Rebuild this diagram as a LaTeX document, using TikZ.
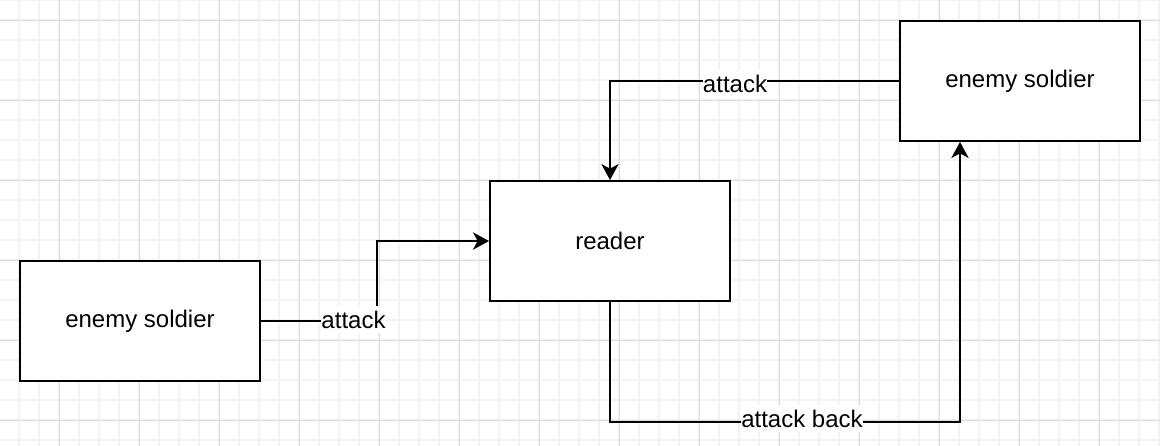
\documentclass[tikz,border=0pt]{standalone}
\usepackage{fontspec}
\setmainfont{Liberation Sans}
\usetikzlibrary{arrows.meta}
\definecolor{minorgrid}{HTML}{F3F3F3}
\definecolor{majorgrid}{HTML}{DDDDDD}
\tikzset{
  box/.style={draw=black, line width=1.5pt, fill=white, minimum width=180pt, minimum height=90pt, inner sep=0pt, font=\fontsize{18}{21.6}\selectfont},
  conn/.style={draw=black, line width=1.5pt, -{Stealth[length=12pt,width=13pt,inset=3.5pt]}},
  lbl/.style={fill=white, inner xsep=0pt, inner ysep=0pt, text height=17pt, text depth=3.75pt, font=\fontsize{18}{21.6}\selectfont},
}
\begin{document}
\begin{tikzpicture}[x=0.75pt,y=-0.75pt]
\useasboundingbox (0,0) rectangle (1160,446);
\fill[white] (0,0) rectangle (1160,446);
% minor grid
\foreach \x in {19,39,...,1159} \draw[minorgrid, line width=1.2pt] (\x,0) -- (\x,446);
\foreach \y in {0,20,...,440} \draw[minorgrid, line width=1.2pt] (0,\y) -- (1160,\y);
% major grid
\foreach \x in {59,139,...,1099} \draw[majorgrid, line width=0.75pt] (\x,0) -- (\x,446);
\foreach \y in {20,100,...,420} \draw[majorgrid, line width=0.75pt] (0,\y) -- (1160,\y);

\node[box] (es1) at (140,321) {enemy soldier};
\node[box] (reader) at (610,241) {reader};
\node[box] (es2) at (1020,81) {enemy soldier};

\draw[conn] (es1.east) -- ++(116,0) |- (reader.west);
\draw[conn] (es2.west) -| (reader.north);
\draw[conn] (reader.south) -- ++(0,120) -| ([xshift=-45pt]es2.south);

\node[lbl] (l1) at (353.5,319.5) {attack};
\node[lbl] (l2) at (735,84) {attack};
\node[lbl] (l3) at (802,418.5) {attack back};
\end{tikzpicture}
\end{document}
